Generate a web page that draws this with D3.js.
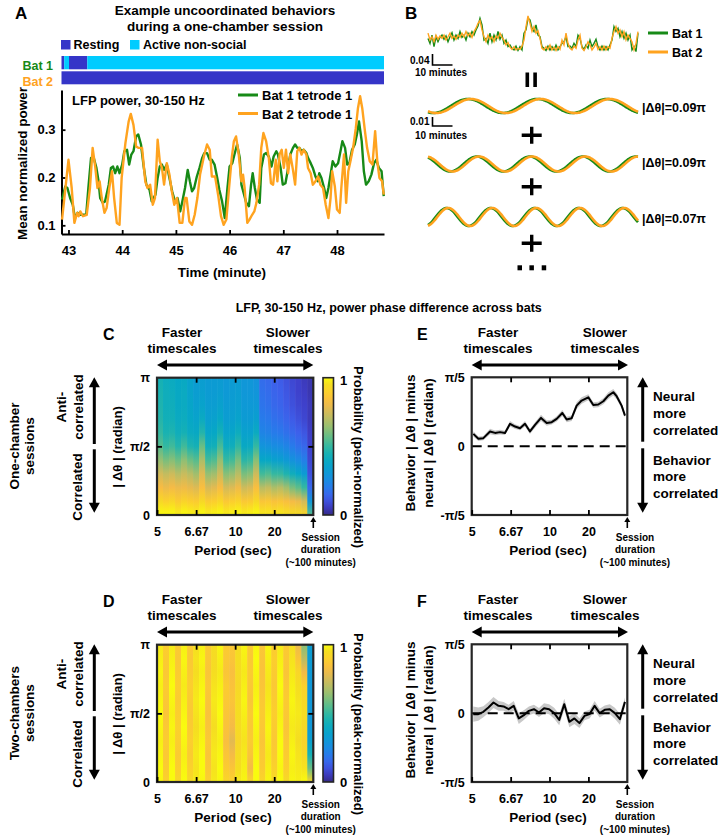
<!DOCTYPE html>
<html><head><meta charset="utf-8">
<script src="https://cdn.jsdelivr.net/npm/d3@7/dist/d3.min.js"></script>
<style>
html,body{margin:0;padding:0;background:#fff;}
svg text{font-family:"Liberation Sans",Arial,Helvetica,sans-serif;font-weight:bold;}
</style></head><body>
<svg id="fig" width="723" height="840" xmlns="http://www.w3.org/2000/svg"></svg>
<script>
// ================= DATA =================
// Panel A: behaviour state bars
const behaviorStates = ["Resting", "Active non-social"];
const stateColors = ["#3535c8", "#00ccff"];
const bat1StateStart = [42.87, 42.92, 43.01, 43.35];
const bat1StateEnd   = [42.92, 43.01, 43.35, 48.875];
const bat1StateIdx   = [0, 1, 0, 1];
const bat2StateStart = [42.87];
const bat2StateEnd   = [48.875];
const bat2StateIdx   = [0];
const timeTicksA  = [43, 44, 45, 46, 47, 48];
const powerTicksA = [0.1, 0.2, 0.3];

// Panel A: LFP power traces (minute, mean normalized power)
const bat1Time = [42.88,42.94,42.98,43.03,43.08,43.12,43.17,43.22,43.27,43.33,
43.37,43.42,43.47,43.52,43.56,43.59,43.64,43.68,43.75,43.79,
43.83,43.87,43.91,43.95,44.00,44.04,44.09,44.13,44.17,44.21,
44.26,44.30,44.35,44.40,44.45,44.51,44.55,44.62,44.66,44.70,
44.74,44.78,44.83,44.88,44.93,44.99,45.03,45.08,45.12,45.17,
45.22,45.26,45.30,45.34,45.39,45.44,45.49,45.53,45.58,45.63,
45.67,45.72,45.77,45.81,45.86,
45.91,45.96,46.00,46.05,46.09,46.14,46.19,46.22,46.27,46.31,
46.36,46.40,46.43,46.47,46.51,46.56,46.59,46.64,46.68,46.73,
46.78,46.82,46.87,46.90,46.95,46.99,47.04,47.09,47.13,47.18,
47.22,47.26,47.30,47.34,47.38,47.43,47.46,47.51,47.55,47.60,
47.64,47.67,47.71,47.76,47.80,47.84,47.88,47.92,47.97,48.02,
48.07,48.10,48.15,48.19,48.23,48.28,48.33,48.37,48.41,48.46,
48.50,48.54,48.59,48.64,48.69,48.73,48.78,48.83,48.87];
const bat1Power = [0.154,0.181,0.178,0.157,0.143,0.115,0.126,0.122,0.122,0.122,
0.178,0.241,0.241,0.220,0.192,0.157,0.147,0.150,0.185,0.220,
0.223,0.209,0.223,0.209,0.227,0.255,0.258,0.227,0.248,0.255,
0.286,0.290,0.269,0.223,0.185,0.174,0.150,0.164,0.199,0.223,
0.227,0.216,0.227,0.199,0.171,0.147,0.157,0.129,0.150,0.178,
0.216,0.192,0.171,0.178,0.202,0.220,0.241,0.251,0.251,0.237,
0.237,0.227,0.199,0.174,0.150,
0.115,0.178,0.223,0.230,0.248,0.269,0.241,0.185,0.164,0.147,
0.140,0.185,0.209,0.178,0.154,0.147,0.220,0.248,0.251,0.244,
0.223,0.244,0.255,0.248,0.220,0.185,0.188,0.220,0.248,0.262,
0.269,0.262,0.262,0.255,0.258,0.251,0.241,0.230,0.220,0.202,
0.192,0.209,0.199,0.178,0.157,0.178,0.206,0.234,0.223,0.230,
0.258,0.276,0.262,0.227,0.230,0.258,0.269,0.290,0.317,0.276,
0.213,0.185,0.192,0.206,0.230,0.237,0.220,0.213,0.161];
const bat2Time = [42.88,43.00,43.06,43.11,43.16,43.19,43.22,43.27,43.34,43.40,
43.45,43.50,43.54,43.58,43.62,43.67,43.71,43.76,43.81,43.85,
43.90,43.95,43.99,44.06,44.12,44.16,44.21,44.26,44.30,44.37,
44.43,44.47,44.52,44.57,44.61,44.66,44.70,44.74,44.78,44.83,
44.88,44.92,44.97,45.02,45.07,45.12,45.17,45.20,45.25,45.30,
45.35,45.40,45.45,45.53,45.58,45.63,45.67,45.73,45.79,45.84,
45.89,45.94,45.99,46.04,46.08,46.12,46.17,46.22,46.25,46.28,
46.33,46.37,46.42,46.46,46.50,46.55,46.59,46.63,46.68,46.73,
46.77,46.81,46.86,46.89,46.93,46.97,47.01,47.05,47.09,47.13,
47.18,47.22,47.26,47.30,47.34,47.38,47.43,47.46,47.51,47.55,
47.60,47.65,47.69,47.74,47.79,47.84,47.88,47.91,47.96,48.00,
48.05,48.08,48.13,48.17,48.21,48.25,48.30,48.35,48.39,48.43,
48.47,48.52,48.56,48.61,48.66,48.71,48.75,48.79,48.84,48.87];
const bat2Power = [0.112,0.237,0.178,0.105,0.126,0.119,0.129,0.119,0.122,0.178,
0.262,0.220,0.178,0.192,0.157,0.126,0.136,0.178,0.213,0.157,
0.105,0.101,0.199,0.272,0.317,0.333,0.310,0.265,0.262,0.262,
0.192,0.178,0.185,0.143,0.157,0.279,0.234,0.220,0.185,0.230,
0.206,0.174,0.143,0.157,0.105,0.105,0.157,0.157,0.108,0.101,
0.122,0.157,0.206,0.248,0.269,0.258,0.202,0.202,0.161,0.119,
0.101,0.112,0.178,0.241,0.276,0.286,0.248,0.192,0.206,0.178,
0.105,0.112,0.122,0.129,0.147,0.185,0.262,0.293,0.276,0.241,
0.188,0.185,0.237,0.192,0.248,0.258,0.220,0.258,0.209,0.248,
0.216,0.185,0.255,0.262,0.248,0.258,0.248,0.220,0.209,0.185,
0.192,0.202,0.185,0.178,0.143,0.115,0.157,0.213,0.181,0.133,
0.126,0.178,0.248,0.147,0.213,0.234,0.262,0.303,0.345,0.370,
0.345,0.297,0.262,0.234,0.227,0.297,0.234,0.199,0.192,0.164];

// Panel B: whole-session power (one value per minute, 0..105 min)
const sessionBat1 = [.144,.126,.156,.114,.150,.132,.148,.156,.141,.153,
.132,.150,.165,.138,.156,.144,.169,.148,.156,.138,
.163,.150,.169,.156,.175,.189,.217,.193,.138,.144,
.126,.163,.132,.156,.138,.169,.141,.156,.126,.138,
.114,.120,.108,.102,.116,.100,.114,.102,.163,.175,
.217,.211,.181,.169,.193,.156,.150,.114,.108,.100,
.116,.102,.114,.102,.120,.102,.114,.126,.132,.150,
.114,.116,.108,.126,.114,.156,.144,.114,.104,.120,
.108,.138,.114,.126,.141,.114,.102,.116,.102,.114,
.102,.120,.138,.187,.169,.181,.150,.169,.144,.163,
.138,.156,.102,.114,.096,.163];
const sessionBat2 = [.163,.138,.150,.132,.156,.141,.153,.144,.156,.138,
.150,.163,.144,.153,.141,.156,.148,.163,.150,.169,
.153,.163,.148,.169,.181,.199,.209,.175,.150,.132,
.156,.141,.150,.132,.153,.144,.163,.148,.138,.120,
.129,.112,.104,.114,.102,.108,.104,.116,.138,.187,
.226,.199,.169,.187,.163,.172,.144,.108,.102,.114,
.104,.120,.102,.112,.100,.114,.104,.138,.120,.163,
.126,.108,.102,.116,.108,.138,.156,.108,.100,.114,
.132,.120,.102,.112,.126,.104,.114,.102,.116,.102,
.114,.108,.144,.169,.187,.163,.175,.150,.169,.138,
.156,.144,.132,.102,.126,.169];
// Panel B: sinusoidal components (period in minutes, amplitude, time of peak, |dtheta| in units of pi)
const compPeriod = [34.75, 26.5, 22.0];
const compAmp    = [0.0078, 0.0083, 0.0100];
const compPeak   = [20.0, 24.35, 9.35];
const compDTheta = [0.09, 0.09, 0.07];
const compLabels = ["|Δθ|=0.09π", "|Δθ|=0.09π", "|Δθ|=0.07π"];

// Panels C-F: period axis
const periodTicks = [5, 6.67, 10, 20];
const periodTickLabels = ["5", "6.67", "10", "20"];
const phaseLevels = [0,0.1,0.2,0.3,0.4,0.5,0.6,0.7,0.8,0.9,1.0]; // |dtheta| / pi

// Panel C heatmap: columns from 5 s period (left) to session duration (right); values bottom(0) -> top(pi)
const heatC = [
[1.00,0.93,0.83,0.75,0.64,0.55,0.50,0.47,0.46,0.45,0.44],
[1.00,0.90,0.80,0.72,0.60,0.50,0.45,0.43,0.42,0.42,0.41],
[1.00,0.92,0.82,0.74,0.62,0.52,0.46,0.43,0.42,0.41,0.40],
[0.98,0.88,0.80,0.70,0.58,0.47,0.42,0.40,0.39,0.39,0.38],
[1.00,0.91,0.81,0.73,0.63,0.52,0.44,0.41,0.40,0.40,0.39],
[0.99,0.89,0.79,0.70,0.58,0.46,0.40,0.38,0.37,0.36,0.36],
[0.98,0.88,0.77,0.66,0.55,0.44,0.39,0.36,0.34,0.33,0.33],
[1.00,0.93,0.84,0.77,0.68,0.58,0.47,0.40,0.36,0.34,0.33],
[0.98,0.88,0.76,0.64,0.52,0.42,0.37,0.34,0.33,0.32,0.32],
[0.99,0.89,0.78,0.66,0.54,0.43,0.38,0.35,0.33,0.32,0.32],
[1.00,0.92,0.83,0.74,0.64,0.53,0.44,0.38,0.35,0.33,0.32],
[0.98,0.87,0.75,0.62,0.50,0.41,0.36,0.33,0.32,0.31,0.31],
[0.99,0.89,0.77,0.64,0.52,0.42,0.37,0.34,0.33,0.32,0.32],
[1.00,0.91,0.81,0.70,0.60,0.49,0.41,0.36,0.34,0.33,0.32],
[0.98,0.87,0.74,0.60,0.48,0.39,0.35,0.32,0.31,0.30,0.30],
[0.99,0.88,0.76,0.62,0.50,0.40,0.35,0.32,0.31,0.30,0.30],
[1.00,0.93,0.84,0.74,0.62,0.50,0.40,0.34,0.31,0.29,0.28],
[0.97,0.86,0.70,0.52,0.38,0.29,0.23,0.20,0.18,0.17,0.16],
[0.97,0.87,0.72,0.54,0.38,0.28,0.22,0.19,0.17,0.16,0.15],
[0.96,0.85,0.68,0.50,0.35,0.26,0.20,0.17,0.15,0.14,0.13],
[0.97,0.86,0.70,0.50,0.34,0.25,0.19,0.16,0.14,0.13,0.12],
[0.96,0.84,0.66,0.46,0.31,0.23,0.17,0.14,0.12,0.11,0.10],
[0.95,0.82,0.60,0.42,0.28,0.20,0.15,0.12,0.10,0.09,0.08],
[0.95,0.80,0.56,0.38,0.25,0.17,0.13,0.10,0.08,0.07,0.07],
[0.92,0.75,0.50,0.32,0.21,0.15,0.11,0.08,0.07,0.06,0.05],
[0.55,0.30,0.15,0.10,0.08,0.07,0.06,0.05,0.05,0.04,0.04]];
// Panel D heatmap
const heatD = [
[0.99,1.00,0.99,0.98,0.99,1.00,0.99,0.98,0.99,0.98,0.97],
[0.90,0.88,0.87,0.88,0.87,0.86,0.87,0.88,0.87,0.88,0.89],
[1.00,1.00,0.99,0.98,0.99,0.98,0.99,1.00,0.99,0.98,0.97],
[0.93,0.89,0.88,0.89,0.90,0.89,0.88,0.89,0.88,0.87,0.88],
[1.00,0.99,0.98,0.99,1.00,0.99,0.98,0.97,0.98,0.99,0.98],
[0.94,0.90,0.88,0.89,0.88,0.87,0.88,0.89,0.88,0.87,0.88],
[0.97,0.96,0.97,0.96,0.95,0.96,0.97,0.96,0.95,0.96,0.95],
[0.99,1.00,1.00,0.99,0.98,0.99,1.00,0.99,0.98,0.99,0.98],
[0.90,0.87,0.86,0.87,0.86,0.85,0.86,0.87,0.86,0.87,0.88],
[0.97,0.96,0.97,0.96,0.95,0.96,0.97,0.96,0.95,0.94,0.95],
[0.99,1.00,0.99,0.98,0.99,1.00,0.99,0.98,0.97,0.98,0.99],
[0.92,0.88,0.86,0.84,0.85,0.86,0.87,0.88,0.86,0.87,0.88],
[0.90,0.86,0.82,0.78,0.82,0.84,0.86,0.85,0.84,0.86,0.87],
[0.97,0.95,0.94,0.92,0.94,0.95,0.94,0.93,0.94,0.95,0.94],
[0.99,0.98,0.97,0.96,0.97,0.98,0.99,0.98,0.97,0.98,0.99],
[0.92,0.82,0.86,0.88,0.87,0.88,0.86,0.87,0.88,0.87,0.88],
[1.00,1.00,0.99,0.98,0.99,1.00,0.99,0.98,0.99,1.00,0.99],
[0.92,0.88,0.87,0.86,0.87,0.88,0.87,0.86,0.85,0.86,0.87],
[0.99,0.98,0.97,0.98,0.99,0.98,0.97,0.96,0.97,0.98,0.99],
[0.94,0.90,0.88,0.87,0.88,0.89,0.88,0.87,0.88,0.89,0.88],
[1.00,0.99,1.00,1.00,0.99,0.98,0.99,1.00,0.99,0.98,0.97],
[0.94,0.89,0.88,0.87,0.86,0.87,0.88,0.87,0.86,0.87,0.88],
[0.99,0.98,0.99,0.98,0.97,0.98,0.99,0.98,0.97,0.96,0.95],
[0.98,0.97,0.96,0.95,0.96,0.97,0.96,0.95,0.92,0.86,0.80],
[1.00,0.96,0.93,0.91,0.93,0.95,0.93,0.90,0.82,0.70,0.62],
[0.92,0.58,0.44,0.34,0.30,0.30,0.30,0.30,0.31,0.32,0.33]];

// Panel E: behaviour |dtheta| minus neural |dtheta| (radian) vs frequency (Hz)
const freqE = [0.1979,0.1914,0.1850,0.1764,0.1700,0.1636,0.1572,0.1507,0.1443,0.1379,
0.1315,0.1251,0.1186,0.1109,0.1036,0.0972,0.0908,0.0835,0.0779,0.0715,
0.0651,0.0587,0.0501,0.0437,0.0373,0.0308,0.0244,0.0180,0.0137,0.0073,0.0030];
const diffE = [0.112,0.067,0.073,0.134,0.121,0.128,0.121,0.204,0.179,0.164,
0.204,0.134,0.194,0.258,0.212,0.219,0.249,0.303,0.243,0.255,
0.370,0.416,0.446,0.376,0.380,0.410,0.461,0.492,0.456,0.370,0.279];
const semE = [0.025,0.020,0.020,0.025,0.022,0.022,0.020,0.025,0.022,0.020,
0.025,0.022,0.025,0.028,0.025,0.022,0.025,0.028,0.025,0.025,
0.030,0.030,0.028,0.025,0.025,0.028,0.030,0.030,0.028,0.025,0.020];
// Panel F
const freqF = [0.1980,0.1915,0.1850,0.1785,0.1720,0.1655,0.1590,0.1525,0.1460,0.1395,
0.1330,0.1265,0.1200,0.1135,0.1070,0.1005,0.0940,0.0875,0.0810,0.0745,
0.0680,0.0615,0.0550,0.0485,0.0420,0.0355,0.0290,0.0225,0.0160,0.0095,0.0030];
const diffF = [-0.009,-0.009,0.012,0.052,0.097,0.067,0.061,0.036,0.067,-0.048,
-0.018,0.021,0.036,0.006,0.045,0.036,0.000,-0.061,0.082,-0.079,
-0.048,-0.091,-0.025,-0.009,0.067,0.000,0.030,0.036,0.000,-0.055,0.103];
const semF = [0.070,0.060,0.050,0.050,0.050,0.045,0.040,0.040,0.045,0.050,
0.045,0.040,0.040,0.040,0.045,0.045,0.050,0.050,0.050,0.050,
0.050,0.045,0.040,0.040,0.045,0.040,0.040,0.045,0.050,0.050,0.040];

// ================= DRAWING =================
const INK = "#000";
const GREEN = "#178a17", ORANGE = "#ffa31f";
const svg = d3.select("#fig");
const defs = svg.append("defs");

function T(x, y, s, size, anchor, rot, fill) {
  const t = svg.append("text").attr("x", x).attr("y", y).attr("font-size", size)
    .attr("text-anchor", anchor || "start").attr("fill", fill || INK).text(s);
  if (rot) t.attr("transform", `rotate(${rot} ${x} ${y})`);
  return t;
}
function styleAxis(g, size) {
  g.attr("font-family", null).attr("font-size", null);
  g.selectAll("text").attr("font-size", size).attr("fill", INK);
  g.selectAll(".tick line").attr("stroke", INK).attr("stroke-width", 1.8);
  g.select(".domain").attr("stroke", INK).attr("stroke-width", 2);
}
function tri(x1, y1, x2, y2, x3, y3) {
  svg.append("path").attr("d", `M${x1},${y1}L${x2},${y2}L${x3},${y3}Z`).attr("fill", INK);
}
function hDoubleArrow(x1, x2, y) {
  const h = 10, w = 5.5;
  svg.append("line").attr("x1", x1 + h - 1).attr("x2", x2 - h + 1).attr("y1", y).attr("y2", y)
    .attr("stroke", INK).attr("stroke-width", 3);
  tri(x1, y, x1 + h, y - w, x1 + h, y + w);
  tri(x2, y, x2 - h, y - w, x2 - h, y + w);
}
function vArrow(x, yTip, yEnd) {
  const h = 10, w = 5.5, dir = yEnd > yTip ? 1 : -1;
  svg.append("line").attr("x1", x).attr("x2", x).attr("y1", yTip + dir * (h - 1)).attr("y2", yEnd)
    .attr("stroke", INK).attr("stroke-width", 3);
  tri(x, yTip, x - w, yTip + dir * h, x + w, yTip + dir * h);
}
function sessionArrow(x, yTop, cx, dy) {
  svg.append("line").attr("x1", x).attr("x2", x).attr("y1", yTop + 4).attr("y2", yTop + 11)
    .attr("stroke", INK).attr("stroke-width", 1.6);
  tri(x, yTop, x - 3, yTop + 5, x + 3, yTop + 5);
  T(cx, 540.5 + dy, "Session", 10, "middle");
  T(cx, 553 + dy, "duration", 10, "middle");
  T(cx, 565.5 + dy, "(~100 minutes)", 10, "middle");
}

// ---------- Panel A ----------
T(15, 19, "A", 17);
T(225, 15, "Example uncoordinated behaviors", 13.5, "middle");
T(225, 31, "during a one-chamber session", 13.5, "middle");
const legX = [61, 130], legTX = [73.5, 143];
behaviorStates.forEach((s, i) => {
  svg.append("rect").attr("x", legX[i]).attr("y", 40).attr("width", 9.5).attr("height", 9.5).attr("fill", stateColors[i]);
  T(legTX[i], 48.5, s, 12.5);
});
const xA = d3.scaleLinear().domain([42.87, 48.875]).range([61.5, 384]);
const yA = d3.scaleLinear().domain([0.0818, 0.383]).range([234, 90]);
function stateBar(starts, ends, idx, y, h) {
  starts.forEach((s, i) => {
    svg.append("rect").attr("x", xA(s)).attr("y", y).attr("width", xA(ends[i]) - xA(s)).attr("height", h)
      .attr("fill", stateColors[idx[i]]);
  });
}
stateBar(bat1StateStart, bat1StateEnd, bat1StateIdx, 56, 13.3);
stateBar(bat2StateStart, bat2StateEnd, bat2StateIdx, 71.3, 13);
T(53, 69.5, "Bat 1", 12.5, "end", null, GREEN);
T(53, 85.5, "Bat 2", 12.5, "end", null, ORANGE);

const gAx = svg.append("g").attr("transform", "translate(0,234)")
  .call(d3.axisBottom(xA).tickValues(timeTicksA).tickSize(-4).tickSizeOuter(0).tickPadding(12).tickFormat(d3.format("d")));
styleAxis(gAx, 13);
const gAy = svg.append("g").attr("transform", "translate(61.5,0)")
  .call(d3.axisLeft(yA).tickValues(powerTicksA).tickSize(-4).tickSizeOuter(0).tickPadding(6).tickFormat(d3.format(".1f")));
styleAxis(gAy, 13);
const lineA = d3.line().x(d => xA(d[0])).y(d => yA(d[1]));
svg.append("path").datum(d3.zip(bat1Time, bat1Power)).attr("d", lineA).attr("fill", "none")
  .attr("stroke", GREEN).attr("stroke-width", 2.4).attr("stroke-linejoin", "round");
svg.append("path").datum(d3.zip(bat2Time, bat2Power)).attr("d", lineA).attr("fill", "none")
  .attr("stroke", ORANGE).attr("stroke-width", 2.4).attr("stroke-linejoin", "round");
T(72, 104.5, "LFP power, 30-150 Hz", 13);
svg.append("line").attr("x1", 238).attr("x2", 258).attr("y1", 95).attr("y2", 95).attr("stroke", GREEN).attr("stroke-width", 3);
T(262, 100, "Bat 1 tetrode 1", 13);
svg.append("line").attr("x1", 238).attr("x2", 258).attr("y1", 113.5).attr("y2", 113.5).attr("stroke", ORANGE).attr("stroke-width", 3);
T(262, 118.5, "Bat 2 tetrode 1", 13);
T(27, 163.5, "Mean normalized power", 13.5, "middle", -90);
T(222, 277, "Time (minute)", 13.5, "middle");

// ---------- Panel B ----------
T(405, 19, "B", 17);
const xB = d3.scaleLinear().domain([0, 105]).range([428, 638]);
const yB = d3.scaleLinear().domain([0.08, 0.22]).range([56, 17.5]);
const minutesB = d3.range(sessionBat1.length);
const lineB = d3.line().x((d, i) => xB(minutesB[i])).y(d => yB(d));
svg.append("path").datum(sessionBat1).attr("d", lineB).attr("fill", "none").attr("stroke", GREEN).attr("stroke-width", 1.4);
svg.append("path").datum(sessionBat2).attr("d", lineB).attr("fill", "none").attr("stroke", ORANGE).attr("stroke-width", 1.4);
svg.append("line").attr("x1", 648).attr("x2", 668).attr("y1", 33).attr("y2", 33).attr("stroke", GREEN).attr("stroke-width", 3);
T(672, 37.5, "Bat 1", 12.5);
svg.append("line").attr("x1", 648).attr("x2", 668).attr("y1", 52).attr("y2", 52).attr("stroke", ORANGE).attr("stroke-width", 3);
T(672, 56.5, "Bat 2", 12.5);
// scale bars
function scaleBar(yBase, vLen, label, labelY, minY) {
  const x0 = 432.5, hLen = xB(10) - xB(0);
  svg.append("path").attr("d", `M${x0},${yBase - vLen}V${yBase}H${x0 + hLen}`).attr("fill", "none")
    .attr("stroke", INK).attr("stroke-width", 1.6);
  T(429.5, labelY, label, 10, "end");
  T(441, minY, "10 minutes", 10, "middle");
}
scaleBar(65, yB(0.08) - yB(0.12), "0.04", 63.5, 75.5);
const sineCenters = [106, 164, 217];
const ySineUnit = 900; // px per unit power
scaleBar(126, 0.01 * ySineUnit, "0.01", 124.5, 138.5);
// "||"
svg.append("rect").attr("x", 525.5).attr("y", 72.5).attr("width", 3.6).attr("height", 14.5).attr("fill", INK);
svg.append("rect").attr("x", 533.3).attr("y", 72.5).attr("width", 3.6).attr("height", 14.5).attr("fill", INK);
// sinusoid components
const tFine = d3.range(0, 105.01, 0.5);
compPeriod.forEach((P, k) => {
  const yc = sineCenters[k];
  const g = tFine.map(t => [t, compAmp[k] * Math.cos(2 * Math.PI * (t - compPeak[k]) / P)]);
  const o = tFine.map(t => [t, compAmp[k] * Math.cos(2 * Math.PI * (t - compPeak[k]) / P - compDTheta[k] * Math.PI)]);
  const ln = d3.line().x(d => xB(d[0])).y(d => yc - d[1] * ySineUnit);
  svg.append("path").datum(g).attr("d", ln).attr("fill", "none").attr("stroke", GREEN).attr("stroke-width", 2.6);
  svg.append("path").datum(o).attr("d", ln).attr("fill", "none").attr("stroke", ORANGE).attr("stroke-width", 2.6);
  T(642, [112, 166.5, 222.5][k], compLabels[k], 12.5);
});
// plus signs and dots
[135.3, 186.7, 243.3].forEach(cy => {
  svg.append("path").attr("d", `M521.7,${cy}H541.7M531.7,${cy - 8.5}V${cy + 8.5}`).attr("stroke", INK).attr("stroke-width", 3.4);
});
[517.5, 529.4, 541.7].forEach(x => svg.append("rect").attr("x", x).attr("y", 265.3).attr("width", 4.5).attr("height", 5).attr("fill", INK));

// ---------- Shared title ----------
T(388.7, 312, "LFP, 30-150 Hz, power phase difference across bats", 12.5, "middle");

// ---------- parula-like colormap ----------
const parulaStops = [[53,42,135],[62,62,200],[62,95,235],[42,120,235],[25,140,225],[12,155,212],[6,167,198],
  [22,177,180],[56,185,158],[101,190,134],[146,191,115],[183,189,100],[217,186,86],[248,187,68],[252,206,46],[245,222,33],[249,251,14]];
const parulaPos = [0,4,8,12,16,20,24,28,32,36,40,44,48,52,56,60,63].map(v => v / 63);
const parula = d3.scaleLinear().domain(parulaPos).range(parulaStops.map(c => `rgb(${c[0]},${c[1]},${c[2]})`))
  .interpolate(d3.interpolateRgb).clamp(true);
const cbGrad = defs.append("linearGradient").attr("id", "cbar").attr("x1", 0).attr("y1", 1).attr("x2", 0).attr("y2", 0);
d3.range(0, 1.0001, 0.05).forEach(v => cbGrad.append("stop").attr("offset", v).attr("stop-color", parula(v)));

function timescaleHeader(cxF, cxS, dy, x1, x2) {
  T(cxF, 337 + dy, "Faster", 13.5, "middle");
  T(cxF, 353 + dy, "timescales", 13.5, "middle");
  T(cxS, 337 + dy, "Slower", 13.5, "middle");
  T(cxS, 353 + dy, "timescales", 13.5, "middle");
  hDoubleArrow(x1, x2, 365 + dy);
}

// ---------- Panels C & D ----------
function heatPanel(dy, letter, rowLines, data, idp) {
  const x0 = 157, x1 = 313.3, yT = 377.7 + dy, yBt = 515 + dy;
  T(103, 339.5 + dy, letter, 16);
  timescaleHeader(182, 288, dy, x0, x1);
  const xs = d3.scaleLinear().domain([0.2, 0]).range([x0, x1]);
  const ys = d3.scaleLinear().domain([0, Math.PI]).range([yBt, yT]);
  const n = data.length, fw = 0.2 / n;
  data.forEach((col, i) => {
    const gid = idp + i;
    const gr = defs.append("linearGradient").attr("id", gid).attr("x1", 0).attr("y1", 1).attr("x2", 0).attr("y2", 0);
    col.forEach((v, j) => gr.append("stop").attr("offset", phaseLevels[j]).attr("stop-color", parula(v)));
    const xa = xs(0.2 - i * fw), xb = xs(0.2 - (i + 1) * fw);
    svg.append("rect").attr("x", xa).attr("y", ys(Math.PI)).attr("width", xb - xa + (i < n - 1 ? 0.6 : 0))
      .attr("height", ys(0) - ys(Math.PI)).attr("fill", `url(#${gid})`);
  });
  svg.append("rect").attr("x", x0).attr("y", yT).attr("width", x1 - x0).attr("height", yBt - yT)
    .attr("fill", "none").attr("stroke", "#262626").attr("stroke-width", 2.2);
  const ptVals = periodTicks.map(p => 1 / p);
  const gx = svg.append("g").attr("transform", `translate(0,${yBt})`)
    .call(d3.axisBottom(xs).tickValues(ptVals).tickSize(-5).tickPadding(12).tickFormat((d, i) => periodTickLabels[i]));
  gx.select(".domain").remove(); styleAxis(gx, 12.5);
  const gxt = svg.append("g").attr("transform", `translate(0,${yT})`)
    .call(d3.axisTop(xs).tickValues(ptVals.slice(1)).tickSize(-5).tickFormat(""));
  gxt.select(".domain").remove(); styleAxis(gxt, 12);
  const phaseLabel = d => d === 0 ? "0" : (Math.abs(d - Math.PI) < 1e-9 ? "π" : "π/2");
  const gy = svg.append("g").attr("transform", `translate(${x0},0)`)
    .call(d3.axisLeft(ys).tickValues([0, Math.PI / 2, Math.PI]).tickSize(-5).tickPadding(7).tickFormat(phaseLabel));
  gy.select(".domain").remove(); styleAxis(gy, 12.5);
  gy.selectAll(".tick").filter(d => d !== Math.PI / 2).select("line").remove();
  const gyr = svg.append("g").attr("transform", `translate(${x1},0)`)
    .call(d3.axisRight(ys).tickValues([Math.PI / 2]).tickSize(-5).tickFormat(""));
  gyr.select(".domain").remove(); styleAxis(gyr, 12);
  // colour bar
  svg.append("rect").attr("x", 323).attr("y", yT).attr("width", 10.5).attr("height", yBt - yT)
    .attr("fill", "url(#cbar)").attr("stroke", "#262626").attr("stroke-width", 1.6);
  T(340, yT + 7, "1", 13);
  T(340, yBt + 4.5, "0", 13);
  T(353.5, 457 + dy, "Probability (peak-normalized)", 13, "middle", 90);
  // left labels
  T(18.5, 446 + dy, rowLines[0], 13.5, "middle", -90);
  T(33.5, 446 + dy, rowLines[1], 13.5, "middle", -90);
  T(65.5, 407 + dy, "Anti-", 13.5, "middle", -90);
  T(82.5, 407 + dy, "correlated", 13.5, "middle", -90);
  T(81.5, 487 + dy, "Correlated", 13.5, "middle", -90);
  vArrow(94.3, 377.3 + dy, 444 + dy);
  vArrow(94.3, 512.7 + dy, 449.3 + dy);
  T(122, 447 + dy, "| Δθ | (radian)", 13, "middle", -90);
  T(233, 555 + dy, "Period (sec)", 13.5, "middle");
  sessionArrow(x1, 517 + dy, 320.7, dy);
}
heatPanel(0, "C", ["One-chamber", "sessions"], heatC, "hc");
heatPanel(267, "D", ["Two-chambers", "sessions"], heatD, "hd");

// ---------- Panels E & F ----------
function linePanel(dy, letter, freqs, diffs, sems) {
  const x0 = 471.7, x1 = 627.3, yT = 377.3 + dy, yBt = 515 + dy;
  T(417, 339.5 + dy, letter, 16);
  timescaleHeader(498, 605, dy, x0, x1 + 0.7);
  const xs = d3.scaleLinear().domain([0.2, 0]).range([x0, x1]);
  const ys = d3.scaleLinear().domain([-Math.PI / 5, Math.PI / 5]).range([yBt, yT]);
  const pts = freqs.map((f, i) => ({ f, v: diffs[i], s: sems[i] }));
  svg.append("path").datum(pts).attr("d", d3.area().x(d => xs(d.f)).y0(d => ys(d.v - d.s)).y1(d => ys(d.v + d.s)))
    .attr("fill", "#c8c8c8");
  svg.append("line").attr("x1", x0).attr("x2", x1).attr("y1", ys(0)).attr("y2", ys(0))
    .attr("stroke", INK).attr("stroke-width", 2).attr("stroke-dasharray", "10,6");
  svg.append("path").datum(pts).attr("d", d3.line().x(d => xs(d.f)).y(d => ys(d.v))).attr("fill", "none")
    .attr("stroke", INK).attr("stroke-width", 2).attr("stroke-linejoin", "round");
  svg.append("rect").attr("x", x0).attr("y", yT).attr("width", x1 - x0).attr("height", yBt - yT)
    .attr("fill", "none").attr("stroke", "#262626").attr("stroke-width", 2.2);
  const ptVals = periodTicks.map(p => 1 / p);
  const gx = svg.append("g").attr("transform", `translate(0,${yBt})`)
    .call(d3.axisBottom(xs).tickValues(ptVals).tickSize(-5).tickPadding(12).tickFormat((d, i) => periodTickLabels[i]));
  gx.select(".domain").remove(); styleAxis(gx, 12.5);
  const gxt = svg.append("g").attr("transform", `translate(0,${yT})`)
    .call(d3.axisTop(xs).tickValues(ptVals.slice(1)).tickSize(-5).tickFormat(""));
  gxt.select(".domain").remove(); styleAxis(gxt, 12);
  const dl = d => d === 0 ? "0" : (d > 0 ? "π/5" : "-π/5");
  const gy = svg.append("g").attr("transform", `translate(${x0},0)`)
    .call(d3.axisLeft(ys).tickValues([-Math.PI / 5, 0, Math.PI / 5]).tickSize(0).tickPadding(7).tickFormat(dl));
  gy.select(".domain").remove(); styleAxis(gy, 12.5);
  T(415, 443 + dy, "Behavior | Δθ | minus", 13.5, "middle", -90);
  T(433, 443 + dy, "neural | Δθ | (radian)", 13.5, "middle", -90);
  vArrow(642.7, 377.3 + dy, 441.7 + dy);
  vArrow(642.7, 512.7 + dy, 448.3 + dy);
  [["Neural", 401], ["more", 417.5], ["correlated", 434.5], ["Behavior", 465], ["more", 481], ["correlated", 498]]
    .forEach(([s, y]) => T(653, y + dy, s, 13.5));
  T(548, 555 + dy, "Period (sec)", 13.5, "middle");
  sessionArrow(x1, 517 + dy, 635, dy);
}
linePanel(0, "E", freqE, diffE, semE);
linePanel(267, "F", freqF, diffF, semF);
</script>
</body></html>
